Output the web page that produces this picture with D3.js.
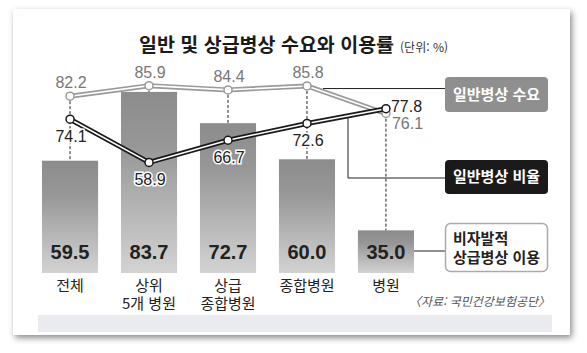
<!DOCTYPE html>
<html lang="ko">
<head>
<meta charset="utf-8">
<script src="https://d3js.org/d3.v7.min.js"></script>
<style>
  body { margin: 0; background: #fff; }
  text { font-family: "Noto Sans CJK KR", "Noto Sans", sans-serif; }
  .num { font-family: "Liberation Sans Narrow", "Liberation Sans", "DejaVu Sans Condensed", sans-serif; }
</style>
</head>
<body>
<div id="chart"></div>
<script>
// data
const categories = ["전체", "상위\n5개 병원", "상급\n종합병원", "종합병원", "병원"];
const usage = [59.5, 83.7, 72.7, 60.0, 35.0];      // 비자발적 상급병상 이용 (bars)
const demand = [82.2, 85.9, 84.4, 85.8, 76.1];     // 일반병상 수요 (gray line)
const ratio = [74.1, 58.9, 66.7, 72.6, 77.8];      // 일반병상 비율 (black line)

const W = 587, H = 353;
const svg = d3.select("#chart").append("svg")
  .attr("width", W).attr("height", H);

const defs = svg.append("defs");
const sh = defs.append("filter").attr("id", "shadow")
  .attr("x", "-5%").attr("y", "-5%").attr("width", "110%").attr("height", "115%");
sh.append("feDropShadow").attr("dx", 2).attr("dy", 3).attr("stdDeviation", 3)
  .attr("flood-color", "#000").attr("flood-opacity", 0.45);

const grad = defs.append("linearGradient").attr("id", "barGrad")
  .attr("x1", 0).attr("y1", 0).attr("x2", 0).attr("y2", 1);
grad.append("stop").attr("offset", "0%").attr("stop-color", "#8c8c8c");
grad.append("stop").attr("offset", "30%").attr("stop-color", "#979797");
grad.append("stop").attr("offset", "100%").attr("stop-color", "#d3d3d3");

// card
svg.append("rect").attr("x", 13).attr("y", 9).attr("width", 557).attr("height", 326)
  .attr("fill", "#fff").attr("filter", "url(#shadow)");
svg.append("rect").attr("x", 38).attr("y", 315).attr("width", 514).attr("height", 17)
  .attr("fill", "#e9ebee");

// title
const title = svg.append("text").attr("x", 139).attr("y", 52)
  .attr("font-size", 19.5).attr("font-weight", "bold").attr("fill", "#1a1a1a");
title.append("tspan").text("일반 및 상급병상 수요와 이용률");
title.append("tspan").attr("dx", 6).attr("font-size", 12).attr("font-weight", "normal")
  .attr("fill", "#333").text("(단위: %)");

// scales
const x = d3.scaleBand().domain(categories).range([42, 414]).paddingInner(0.29).paddingOuter(0);
const y = d3.scaleLinear().domain([20, 90]).range([273, 74]);
const cx = i => x(categories[i]) + x.bandwidth() / 2;

// bars
svg.selectAll(".bar").data(usage).join("rect")
  .attr("x", (d, i) => x(categories[i]))
  .attr("y", d => y(d))
  .attr("width", x.bandwidth())
  .attr("height", d => y(20) - y(d))
  .attr("fill", "url(#barGrad)");

svg.selectAll(".barlab").data(usage).join("text")
  .attr("class", "num")
  .attr("x", (d, i) => cx(i)).attr("y", 259)
  .attr("text-anchor", "middle").attr("font-size", 20).attr("font-weight", "bold")
  .attr("fill", "#222").text(d => d.toFixed(1));

// dashed drop lines from points to bar tops
svg.selectAll(".drop").data(usage).join("line")
  .attr("x1", (d, i) => cx(i)).attr("x2", (d, i) => cx(i))
  .attr("y1", (d, i) => y(Math.max(demand[i], ratio[i])))
  .attr("y2", d => y(d))
  .attr("stroke", "#222").attr("stroke-width", 1).attr("stroke-dasharray", "3,2");

// legend connectors
const lineAt = (arr, px) => {
  const i = 3, x0 = cx(i), x1 = cx(i + 1);
  return y(arr[i] + (arr[i + 1] - arr[i]) * (px - x0) / (x1 - x0));
};
svg.append("line").attr("x1", 323).attr("x2", 445)
  .attr("y1", lineAt(demand, 323) - 3).attr("y2", lineAt(demand, 323) - 3)
  .attr("stroke", "#222").attr("stroke-width", 1);
svg.append("polyline")
  .attr("points", `348,${lineAt(ratio, 348)} 348,178 445,178`)
  .attr("fill", "none").attr("stroke", "#222").attr("stroke-width", 1);
svg.append("line").attr("x1", x(categories[4]) + x.bandwidth()).attr("x2", 445)
  .attr("y1", 251).attr("y2", 251).attr("stroke", "#222").attr("stroke-width", 1);

// lines
const line = d3.line().x((d, i) => cx(i)).y(d => y(d));
function drawLine(data, color) {
  svg.append("path").attr("d", line(data)).attr("fill", "none")
    .attr("stroke", color).attr("stroke-width", 5).attr("stroke-linejoin", "round");
  svg.append("path").attr("d", line(data)).attr("fill", "none")
    .attr("stroke", "#fff").attr("stroke-width", 1.6).attr("stroke-linejoin", "round");
  svg.selectAll(null).data(data).join("circle")
    .attr("cx", (d, i) => cx(i)).attr("cy", d => y(d)).attr("r", 4)
    .attr("fill", "#fff").attr("stroke", color).attr("stroke-width", 1.5);
}
drawLine(demand, "#9a9a9a");
drawLine(ratio, "#1a1a1a");

// gray value labels
svg.selectAll(".dlab").data(demand).join("text")
  .attr("class", "num")
  .attr("x", (d, i) => i === 4 ? cx(i) + 6 : cx(i) + 1)
  .attr("y", (d, i) => i === 4 ? y(d) + 15 : y(d) - 8)
  .attr("text-anchor", (d, i) => i === 4 ? "start" : "middle")
  .attr("font-size", 16).attr("fill", "#777").text(d => d.toFixed(1));

// black value labels
svg.selectAll(".rlab").data(ratio).join("text")
  .attr("class", "num")
  .attr("x", (d, i) => i === 4 ? cx(i) + 5 : cx(i) + 1)
  .attr("y", (d, i) => i === 4 ? y(d) + 3 : y(d) + 23)
  .attr("text-anchor", (d, i) => i === 4 ? "start" : "middle")
  .attr("font-size", 16).attr("fill", "#222")
  .attr("stroke", "#fff").attr("stroke-width", 3).attr("paint-order", "stroke")
  .text(d => d.toFixed(1));

// category labels, one text per line
const xLines = categories.flatMap(c => c.split("\n").map((t, k) => ({ c, t, k })));
svg.selectAll(".xlab").data(xLines).join("text")
  .attr("x", d => x(d.c) + x.bandwidth() / 2)
  .attr("y", d => 291 + d.k * 18)
  .attr("text-anchor", "middle").attr("font-size", 15).attr("fill", "#222")
  .text(d => d.t);

// source
svg.append("text").attr("x", 550).attr("y", 306).attr("text-anchor", "end")
  .attr("font-size", 12).attr("font-style", "italic").attr("fill", "#555")
  .text("〈자료: 국민건강보험공단〉");

// legend boxes
svg.append("rect").attr("x", 445).attr("y", 77).attr("width", 103).attr("height", 35)
  .attr("rx", 4).attr("fill", "#8f8f8f");
svg.append("text").attr("x", 496.5).attr("y", 100).attr("text-anchor", "middle")
  .attr("font-size", 15).attr("font-weight", "bold").attr("fill", "#fff").text("일반병상 수요");

svg.append("rect").attr("x", 445).attr("y", 160).attr("width", 103).attr("height", 34)
  .attr("rx", 4).attr("fill", "#1a1a1a");
svg.append("text").attr("x", 496.5).attr("y", 182).attr("text-anchor", "middle")
  .attr("font-size", 15).attr("font-weight", "bold").attr("fill", "#fff").text("일반병상 비율");

svg.append("rect").attr("x", 445.5).attr("y", 223.5).attr("width", 102).attr("height", 48)
  .attr("rx", 5).attr("fill", "#fff").attr("stroke", "#aaa").attr("stroke-width", 1.5);
const lt = svg.append("text").attr("x", 453).attr("y", 244)
  .attr("font-size", 15).attr("font-weight", "bold").attr("fill", "#222");
lt.append("tspan").attr("x", 453).text("비자발적");
lt.append("tspan").attr("x", 453).attr("dy", 19).text("상급병상 이용");
</script>
</body>
</html>
